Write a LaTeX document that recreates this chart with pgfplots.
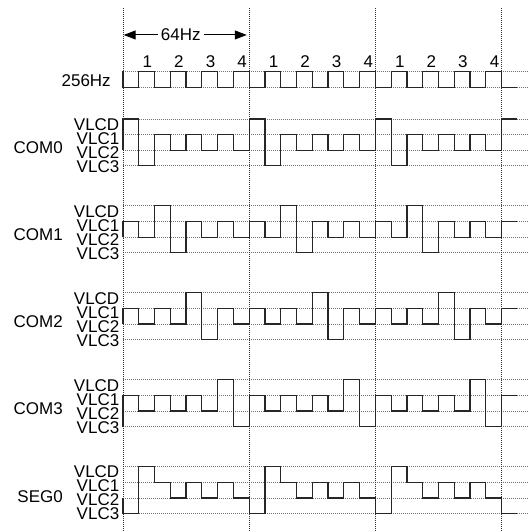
\documentclass[border=0pt]{standalone}
\usepackage{pgfplots}
\pgfplotsset{compat=1.18}
\usepackage{fontspec}
\setmainfont{Liberation Sans}
\usetikzlibrary{arrows.meta}
\begin{document}
\fontsize{17}{19}\selectfont
\begin{tikzpicture}[
  wave/.style={black!85, line width=1.2pt, const plot, mark=none},
  hgrid/.style={black!55, line width=0.8pt, dash pattern=on 1pt off 1pt},
  vgrid/.style={black!80, line width=0.8pt, dash pattern=on 1pt off 1pt},
]
\begin{axis}[
  scale only axis, width=405pt, height=523pt,
  xmin=0, xmax=25.65, ymin=8, ymax=531, y dir=reverse,
  axis lines=none, ticks=none, clip=false,
]
% bounding box
\path (axis cs:-7.79,0) rectangle (axis cs:25.65,531);
% grid lines
\pgfplotsinvokeforeach{71.3,87.3,119,134.67,150.33,166,206,221.67,237.33,253,293,308.67,324.33,340,380,395.67,411.33,427,467,482.67,498.33,514}{
  \draw[hgrid] (axis cs:0,#1) -- (axis cs:25.65,#1);
}
\pgfplotsinvokeforeach{0,8,16,24}{
  \draw[vgrid] (axis cs:#1,8) -- (axis cs:#1,531);
}
% 256Hz clock
\addplot[wave, y filter/.expression={71.3+(1-y)*16}] coordinates {
(0,1)(0,0)(1,1)(2,0)(3,1)(4,0)(5,1)(6,0)(7,1)(8,0)(9,1)(10,0)(11,1)(12,0)(13,1)(14,0)(15,1)(16,0)(17,1)(18,0)(19,1)(20,0)(21,1)(22,0)(23,1)(24,0)(25,0)};
% COM0
\addplot[wave, y filter/.expression={119+(3-y)*15.667}] coordinates {
(0,1)(0,3)(1,0)(2,2)(3,1)(4,2)(5,1)(6,2)(7,1)(8,3)(9,0)(10,2)(11,1)(12,2)(13,1)(14,2)(15,1)(16,3)(17,0)(18,2)(19,1)(20,2)(21,1)(22,2)(23,1)(24,3)(25,3)};
% COM1
\addplot[wave, y filter/.expression={206+(3-y)*15.667}] coordinates {
(0,1)(0,2)(1,1)(2,3)(3,0)(4,2)(5,1)(6,2)(7,1)(8,2)(9,1)(10,3)(11,0)(12,2)(13,1)(14,2)(15,1)(16,2)(17,1)(18,3)(19,0)(20,2)(21,1)(22,2)(23,1)(24,2)(25,2)};
% COM2
\addplot[wave, y filter/.expression={293+(3-y)*15.667}] coordinates {
(0,1)(0,2)(1,1)(2,2)(3,1)(4,3)(5,0)(6,2)(7,1)(8,2)(9,1)(10,2)(11,1)(12,3)(13,0)(14,2)(15,1)(16,2)(17,1)(18,2)(19,1)(20,3)(21,0)(22,2)(23,1)(24,2)(25,2)};
% COM3
\addplot[wave, y filter/.expression={380+(3-y)*15.667}] coordinates {
(0,0)(0,2)(1,1)(2,2)(3,1)(4,2)(5,1)(6,3)(7,0)(8,2)(9,1)(10,2)(11,1)(12,2)(13,1)(14,3)(15,0)(16,2)(17,1)(18,2)(19,1)(20,2)(21,1)(22,3)(23,0)(24,2)(25,2)};
% SEG0
\addplot[wave, y filter/.expression={467+(3-y)*15.667}] coordinates {
(0,1)(0,0)(1,3)(2,2)(3,1)(4,2)(5,1)(6,2)(7,1)(8,0)(9,3)(10,2)(11,1)(12,2)(13,1)(14,2)(15,1)(16,0)(17,3)(18,2)(19,1)(20,2)(21,1)(22,2)(23,1)(24,0)(25,0)};
% labels
\node[anchor=east, inner sep=0pt] at (axis cs:-0.76,81) {256Hz};
\pgfplotsinvokeforeach{0,8,16}{
  \node[inner sep=0pt] at (axis cs:#1+1.55,61.7) {1};
  \node[inner sep=0pt] at (axis cs:#1+3.55,61.7) {2};
  \node[inner sep=0pt] at (axis cs:#1+5.55,61.7) {3};
  \node[inner sep=0pt] at (axis cs:#1+7.55,61.7) {4};
}
\node[inner sep=3pt] (hz) at (axis cs:3.67,35) {64Hz};
\draw[line width=1pt, -{Triangle[length=12pt,width=9pt]}] (hz.west) -- (axis cs:0.05,35);
\draw[line width=1pt, -{Triangle[length=12pt,width=9pt]}] (hz.east) -- (axis cs:7.85,35);
\node[anchor=east, inner sep=0pt] at (axis cs:-3.80,148) {COM0};
\node[anchor=east, inner sep=0pt] at (axis cs:-3.80,235) {COM1};
\node[anchor=east, inner sep=0pt] at (axis cs:-3.80,322) {COM2};
\node[anchor=east, inner sep=0pt] at (axis cs:-3.80,409) {COM3};
\node[anchor=east, inner sep=0pt] at (axis cs:-3.80,497) {SEG0};
\pgfplotsinvokeforeach{119,206,293,380,467}{
  \node[anchor=east, inner sep=0pt] at (axis cs:-0.22,#1+5.5) {VLCD};
  \node[anchor=east, inner sep=0pt] at (axis cs:-0.22,#1+19.5) {VLC1};
  \node[anchor=east, inner sep=0pt] at (axis cs:-0.22,#1+33.5) {VLC2};
  \node[anchor=east, inner sep=0pt] at (axis cs:-0.22,#1+47.5) {VLC3};
}
\end{axis}
\end{tikzpicture}
\end{document}
